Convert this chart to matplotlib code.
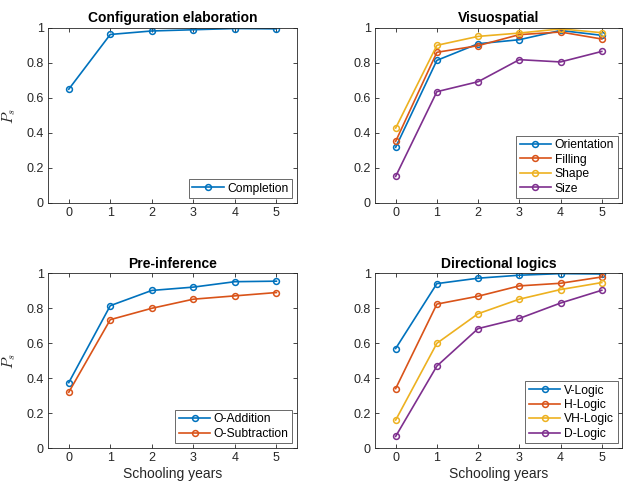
import numpy as np
import matplotlib.pyplot as plt

plt.rcParams['font.family'] = ['Liberation Sans', 'DejaVu Sans']
plt.rcParams['mathtext.fontset'] = 'cm'

years = [0, 1, 2, 3, 4, 5]

completion = [0.65, 0.963, 0.983, 0.99, 0.997, 0.995]

orientation = [0.318, 0.815, 0.91, 0.933, 0.986, 0.958]
filling = [0.352, 0.861, 0.899, 0.962, 0.977, 0.937]
shape = [0.428, 0.901, 0.952, 0.971, 0.995, 0.973]
size = [0.152, 0.636, 0.693, 0.819, 0.806, 0.866]

o_addition = [0.375, 0.815, 0.902, 0.921, 0.952, 0.955]
o_subtraction = [0.32, 0.735, 0.80, 0.852, 0.871, 0.89]

v_logic = [0.570, 0.941, 0.972, 0.989, 0.998, 0.996]
h_logic = [0.341, 0.824, 0.869, 0.928, 0.943, 0.979]
vh_logic = [0.161, 0.600, 0.769, 0.852, 0.907, 0.947]
d_logic = [0.068, 0.47, 0.684, 0.742, 0.83, 0.903]

colors = ['#0072BD', '#D95319', '#EDB120', '#7E2F8E']
edge = '#262626'

panels = [
    ('Configuration elaboration', [completion], ['Completion']),
    ('Visuospatial', [orientation, filling, shape, size],
     ['Orientation', 'Filling', 'Shape', 'Size']),
    ('Pre-inference', [o_addition, o_subtraction], ['O-Addition', 'O-Subtraction']),
    ('Directional logics', [v_logic, h_logic, vh_logic, d_logic],
     ['V-Logic', 'H-Logic', 'VH-Logic', 'D-Logic']),
]

positions = [
    [0.077, 0.5866, 0.400, 0.3564],
    [0.602, 0.5866, 0.397, 0.3564],
    [0.077, 0.0870, 0.400, 0.3564],
    [0.602, 0.0870, 0.397, 0.3564],
]

fig = plt.figure(figsize=(6.23, 4.91), dpi=100)

for i, (title, series, labels) in enumerate(panels):
    ax = fig.add_axes(positions[i])
    for j, (vals, lab) in enumerate(zip(series, labels)):
        ax.plot(years, vals, '-o', color=colors[j], lw=1.2, ms=4.2,
                mfc='none', mew=1.1, label=lab)
    ax.set_xlim(-0.5, 5.5)
    ax.set_ylim(0, 1)
    ax.set_xticks(years)
    ax.set_yticks([0, 0.2, 0.4, 0.6, 0.8, 1])
    ax.set_yticklabels(['0', '0.2', '0.4', '0.6', '0.8', '1'])
    ax.tick_params(direction='in', top=True, right=True, length=3,
                   labelsize=9, colors=edge, width=0.6, pad=3)
    for s in ax.spines.values():
        s.set_color(edge)
        s.set_linewidth(0.6)
    ax.set_title(title, fontsize=10, fontweight='bold', pad=4)
    if i % 2 == 0:
        ax.set_ylabel('$P_s$', fontsize=11, color=edge, labelpad=6)
    if i >= 2:
        ax.set_xlabel('Schooling years', fontsize=10, color=edge, labelpad=2)
    leg = ax.legend(loc='lower right', fontsize=8.7, frameon=True, fancybox=False,
                    edgecolor=edge, handlelength=2.6, borderpad=0.3,
                    labelspacing=0.2, handletextpad=0.3, borderaxespad=0.4)
    leg.get_frame().set_linewidth(0.6)

fig.savefig('out.png', dpi=100)
